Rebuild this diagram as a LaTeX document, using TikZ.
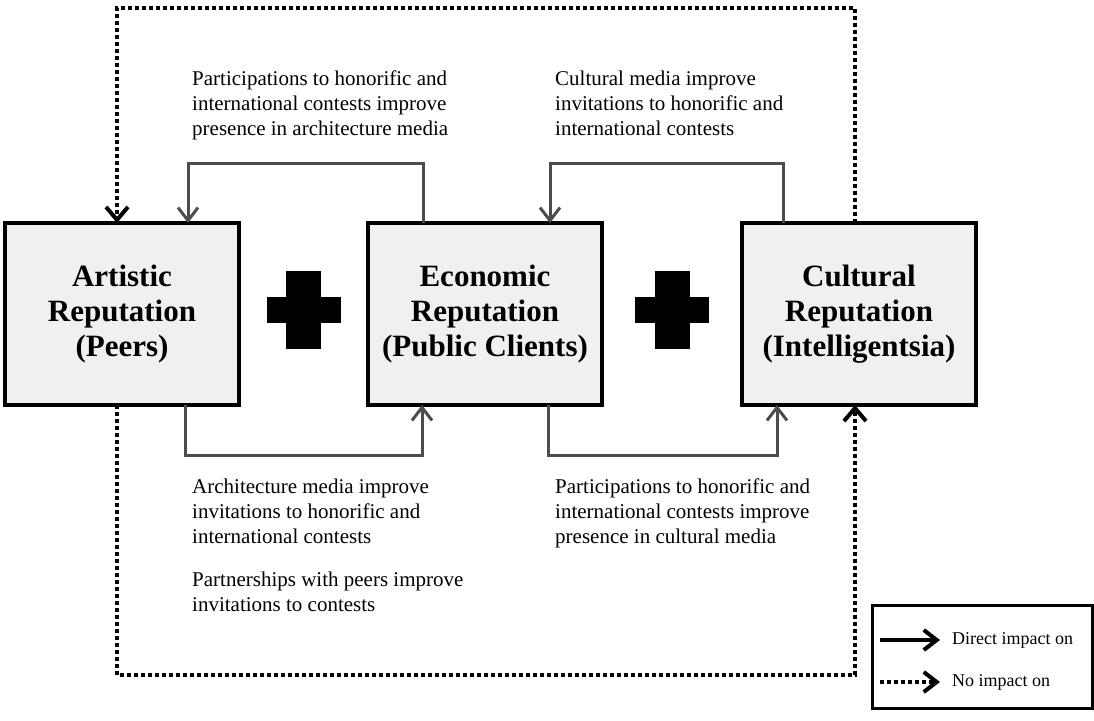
\documentclass[tikz,border=0pt]{standalone}
\usepackage{fontspec}
\setmainfont{Liberation Serif}
\usetikzlibrary{positioning,calc,arrows.meta}
\definecolor{boxG}{gray}{0.94}
\definecolor{linkG}{gray}{0.3}

\begin{document}
\begin{tikzpicture}[
	x=1pt, y=1pt,
	RepBox/.style={draw, line width=3.5pt, fill=boxG, minimum width=234pt,
		minimum height=182pt, outer sep=0pt, align=center,
		font=\fontsize{31}{35}\selectfont\bfseries},
	Link/.style={draw=linkG, line width=3pt,
		-{Straight Barb[length=13pt, width=20pt, line width=3pt]}},
	NoLink/.style={line width=4pt, dash pattern=on 4pt off 3pt,
		-{Straight Barb[length=13pt, width=22pt, line width=4pt]}},
	Note/.style={anchor=north west, inner sep=0pt, align=left,
		font=\fontsize{21}{25}\selectfont},
	LegText/.style={inner sep=0pt, font=\fontsize{18}{20}\selectfont},
	]
	\useasboundingbox (0,0) rectangle (1094,-720);
	
	% the three reputations
	\node [RepBox] (art) at (122,-314) {Artistic\\Reputation\\(Peers)};
	\node [RepBox, right=129pt of art] (eco) {Economic\\Reputation\\(Public Clients)};
	\node [RepBox, right=140pt of eco] (cul) {Cultural\\Reputation\\(Intelligentsia)};
	
	\foreach \a/\b in {art/eco, eco/cul}{
		\coordinate (plus) at ($(\a.east)!0.5!(\b.west)+(0,4)$);
		\fill ([shift={(-37,-13)}]plus) rectangle ++(74,26);
		\fill ([shift={(-17.5,-39)}]plus) rectangle ++(35,78);
	}
	
	% direct impacts
	\draw [Link] ([xshift=-62pt]eco.north) -- ++(0,60) -| ([xshift=66pt]art.north);
	\draw [Link] ([xshift=-76pt]cul.north) -- ++(0,60) -| ([xshift=65pt]eco.north);
	\draw [Link] ([xshift=63pt]art.south) -- ++(0,-50) -| ([xshift=-63pt]eco.south);
	\draw [Link] ([xshift=63pt]eco.south) -- ++(0,-50) -| ([xshift=-82pt]cul.south);
	
	% no impacts
	\draw [NoLink] ([xshift=-4pt]cul.north) -- ++(0,215) -| ([xshift=-5pt]art.north);
	\draw [NoLink] ([xshift=-5pt]art.south) -- ++(0,-270) -| ([xshift=-4pt]cul.south);
	
	\node [Note] (n1) at (192,-71) {Participations to honorific and\\international contests improve\\presence in architecture media};
	\node [Note] (n2) at (555,-71) {Cultural media improve\\invitations to honorific and\\international contests};
	\node [Note] (n3) at (192,-479) {Architecture media improve\\invitations to honorific and\\international contests};
	\node [Note] (n4) at (192,-572) {Partnerships with peers improve\\invitations to contests};
	\node [Note] (n5) at (555,-479) {Participations to honorific and\\international contests improve\\presence in cultural media};
	
	% legend
	\node [draw, line width=3pt, minimum width=220pt, minimum height=103pt,
		outer sep=0pt] (legend) at (982,-656.5) {};
	\coordinate (ls1) at ([xshift=8pt,yshift=-35pt]legend.north west);
	\coordinate (le1) at ([xshift=68pt,yshift=-35pt]legend.north west);
	\coordinate (ls2) at ([xshift=8pt,yshift=-77pt]legend.north west);
	\coordinate (le2) at ([xshift=68pt,yshift=-77pt]legend.north west);
	\draw [line width=4pt, -{Straight Barb[length=13pt, width=20pt, line width=4pt]}] (ls1) -- (le1);
	\draw [line width=4pt, dash pattern=on 4pt off 3pt,
		-{Straight Barb[length=13pt, width=20pt, line width=4pt]}] (ls2) -- (le2);
	\node [LegText, right=12pt of le1] (lt1) {Direct impact on};
	\node [LegText, right=12pt of le2] (lt2) {No impact on};
\end{tikzpicture}
\end{document}
